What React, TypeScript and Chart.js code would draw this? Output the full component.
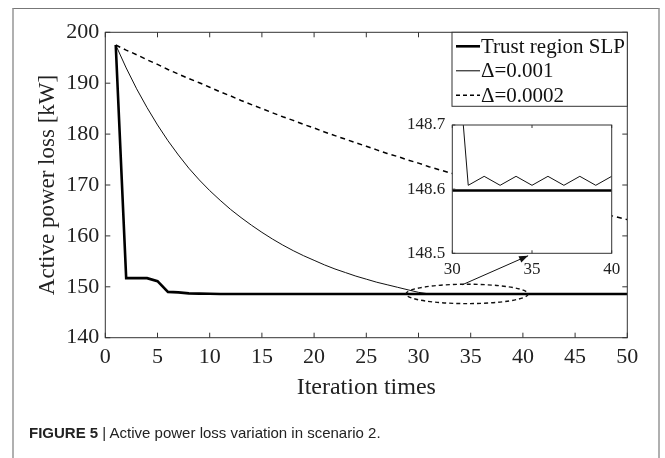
import React, { useEffect, useRef } from "react";
import { Chart, registerables } from "chart.js";

Chart.register(...registerables);

// ---------------- data ----------------
const iterations = [
  1, 2, 3, 4, 5, 6, 7, 8, 9, 10, 11, 12, 13, 14, 15, 16, 17, 18, 19, 20, 21, 22, 23, 24, 25,
  26, 27, 28, 29, 30, 31, 32, 33, 34, 35, 36, 37, 38, 39, 40, 41, 42, 43, 44, 45, 46, 47, 48, 49, 50,
];

const trustRegionSLP = [
  197.5, 151.7, 151.7, 151.7, 151.1, 149.0, 148.9, 148.7, 148.65, 148.62,
  148.6, 148.6, 148.6, 148.6, 148.6, 148.6, 148.6, 148.6, 148.6, 148.6,
  148.598, 148.598, 148.598, 148.598, 148.598, 148.598, 148.598, 148.598, 148.598, 148.598,
  148.598, 148.598, 148.598, 148.598, 148.598, 148.598, 148.598, 148.598, 148.598, 148.598,
  148.598, 148.598, 148.598, 148.598, 148.598, 148.598, 148.598, 148.598, 148.598, 148.598,
];

const delta001 = [
  197.5, 193.0, 188.9, 185.2, 181.8, 178.7, 175.9, 173.3, 171.0, 168.9,
  167.0, 165.2, 163.6, 162.1, 160.7, 159.4, 158.2, 157.1, 156.1, 155.2,
  154.3, 153.5, 152.8, 152.1, 151.5, 150.9, 150.4, 149.9, 149.4, 148.91,
  148.606, 148.62, 148.606, 148.62, 148.606, 148.62, 148.606, 148.62, 148.606, 148.62,
  148.606, 148.62, 148.606, 148.62, 148.606, 148.62, 148.606, 148.62, 148.606, 148.62,
];

const delta0002 = [
  197.5, 196.5, 195.6, 194.6, 193.7, 192.7, 191.8, 190.9, 190.1, 189.2,
  188.3, 187.5, 186.6, 185.8, 185.0, 184.2, 183.4, 182.7, 181.9, 181.2,
  180.4, 179.7, 179.0, 178.3, 177.6, 176.9, 176.2, 175.6, 174.9, 174.3,
  173.6, 173.0, 172.4, 171.8, 171.2, 170.6, 170.0, 169.4, 168.9, 168.3,
  167.8, 167.2, 166.7, 166.2, 165.7, 165.2, 164.7, 164.2, 163.7, 163.2,
];

const seriesLabels = ["Trust region SLP", "\u0394=0.001", "\u0394=0.0002"];
const xTickValues = [0, 5, 10, 15, 20, 25, 30, 35, 40, 45, 50];
const yTickValues = [140, 150, 160, 170, 180, 190, 200];
const insetXTicks = [30, 35, 40];
const insetYTicks = [148.5, 148.6, 148.7];

// zoom annotation (data units)
const ellipseX = [28.8, 40.5];
const ellipseY = [146.7, 150.5];
const arrowFrom = [34.2, 150.4];
const arrowTo = [40.5, 156.1];

const SERIF = "'Liberation Serif', 'Times New Roman', serif";

function drawBoxAndTicks(chart: any, len: number, xt: number[], yt: number[], topTicks: boolean, rightTicks: boolean) {
  const { ctx, chartArea: a, scales } = chart;
  ctx.save();
  ctx.strokeStyle = "#333";
  ctx.lineWidth = 1;
  ctx.strokeRect(a.left, a.top, a.right - a.left, a.bottom - a.top);
  ctx.beginPath();
  xt.forEach((v) => {
    const px = scales.x.getPixelForValue(v);
    ctx.moveTo(px, a.bottom);
    ctx.lineTo(px, a.bottom - len);
    if (topTicks) {
      ctx.moveTo(px, a.top);
      ctx.lineTo(px, a.top + len);
    }
  });
  yt.forEach((v) => {
    const py = scales.y.getPixelForValue(v);
    ctx.moveTo(a.left, py);
    ctx.lineTo(a.left + len, py);
    if (rightTicks) {
      ctx.moveTo(a.right, py);
      ctx.lineTo(a.right - len, py);
    }
  });
  ctx.stroke();
  ctx.restore();
}

const mainPlugin = {
  id: "mainDecor",
  afterDraw(chart: any) {
    const { ctx, chartArea: a, scales } = chart;
    drawBoxAndTicks(chart, 5, xTickValues, yTickValues, true, true);

    // ellipse
    const x0 = scales.x.getPixelForValue(ellipseX[0]);
    const x1 = scales.x.getPixelForValue(ellipseX[1]);
    const y0 = scales.y.getPixelForValue(ellipseY[1]);
    const y1 = scales.y.getPixelForValue(ellipseY[0]);
    ctx.save();
    ctx.strokeStyle = "#111";
    ctx.lineWidth = 1.4;
    ctx.setLineDash([4, 3]);
    ctx.beginPath();
    ctx.ellipse((x0 + x1) / 2, (y0 + y1) / 2, (x1 - x0) / 2, (y1 - y0) / 2, 0, 0, Math.PI * 2);
    ctx.stroke();
    ctx.setLineDash([]);

    // arrow
    const ax = scales.x.getPixelForValue(arrowFrom[0]);
    const ay = scales.y.getPixelForValue(arrowFrom[1]);
    const bx = scales.x.getPixelForValue(arrowTo[0]);
    const by = scales.y.getPixelForValue(arrowTo[1]);
    ctx.lineWidth = 1;
    ctx.beginPath();
    ctx.moveTo(ax, ay);
    ctx.lineTo(bx, by);
    ctx.stroke();
    const ang = Math.atan2(by - ay, bx - ax);
    const hl = 9, hw = 3.5;
    ctx.beginPath();
    ctx.moveTo(bx, by);
    ctx.lineTo(bx - hl * Math.cos(ang) + hw * Math.sin(ang), by - hl * Math.sin(ang) - hw * Math.cos(ang));
    ctx.lineTo(bx - hl * Math.cos(ang) - hw * Math.sin(ang), by - hl * Math.sin(ang) + hw * Math.cos(ang));
    ctx.closePath();
    ctx.fillStyle = "#111";
    ctx.fill();

    // legend box
    const lx = 452, ly = a.top, lw = a.right - 452, lh = 74;
    ctx.fillStyle = "#fff";
    ctx.fillRect(lx, ly, lw, lh);
    ctx.strokeStyle = "#333";
    ctx.lineWidth = 1;
    ctx.strokeRect(lx, ly, lw, lh);
    const rows = [14, 38.5, 63];
    const widths = [2.6, 1, 1.5];
    const dashes = [[], [], [4, 3]];
    ctx.font = `21px ${SERIF}`;
    ctx.textBaseline = "middle";
    ctx.textAlign = "left";
    rows.forEach((dy, i) => {
      const yy = ly + dy;
      ctx.strokeStyle = "#000";
      ctx.lineWidth = widths[i];
      ctx.setLineDash(dashes[i]);
      ctx.beginPath();
      ctx.moveTo(lx + 4, yy);
      ctx.lineTo(lx + 28, yy);
      ctx.stroke();
      ctx.setLineDash([]);
      ctx.fillStyle = "#111";
      ctx.fillText(seriesLabels[i], lx + 29, yy + 1);
    });
    ctx.restore();
  },
};

const insetPlugin = {
  id: "insetDecor",
  beforeDraw(chart: any) {
    const { ctx, chartArea: a } = chart;
    ctx.save();
    ctx.fillStyle = "#fff";
    ctx.fillRect(a.left, a.top, a.right - a.left, a.bottom - a.top);
    ctx.restore();
  },
  afterDraw(chart: any) {
    drawBoxAndTicks(chart, 3, insetXTicks, insetYTicks, true, false);
  },
};

function makePoints(values: number[]) {
  return iterations.map((x, i) => ({ x, y: values[i] }));
}

function datasets() {
  return [
    {
      label: seriesLabels[2],
      data: makePoints(delta0002),
      borderColor: "#000",
      borderWidth: 1.5,
      borderDash: [5, 4],
      pointRadius: 0,
      tension: 0,
      order: 3,
    },
    {
      label: seriesLabels[1],
      data: makePoints(delta001),
      borderColor: "#111",
      borderWidth: 1,
      pointRadius: 0,
      tension: 0,
      order: 2,
    },
    {
      label: seriesLabels[0],
      data: makePoints(trustRegionSLP),
      borderColor: "#000",
      borderWidth: 2.6,
      pointRadius: 0,
      tension: 0,
      order: 1,
    },
  ];
}

export default function App() {
  const mainRef = useRef<HTMLCanvasElement>(null);
  const insetRef = useRef<HTMLCanvasElement>(null);

  useEffect(() => {
    const tickFont = { family: SERIF, size: 22 };
    const main = new Chart(mainRef.current!, {
      type: "line",
      data: { datasets: datasets() as any },
      plugins: [mainPlugin],
      options: {
        animation: false,
        responsive: false,
        events: [],
        layout: { padding: { left: 20, top: 32.3, right: 37.7, bottom: 40 } },
        plugins: { legend: { display: false }, tooltip: { enabled: false } },
        scales: {
          x: {
            type: "linear",
            min: 0,
            max: 50,
            grid: { display: false, drawTicks: false },
            border: { display: false },
            afterBuildTicks: (s: any) => {
              s.ticks = xTickValues.map((v) => ({ value: v }));
            },
            afterFit: (s: any) => {
              s.height = 80.3;
              s.paddingLeft = 0;
              s.paddingRight = 0;
            },
            ticks: { font: tickFont, color: "#222", padding: 6, maxRotation: 0, autoSkip: false },
            title: {
              display: true,
              text: "Iteration times",
              font: { family: SERIF, size: 24 },
              color: "#222",
              padding: { top: 0, bottom: 16 },
            },
          },
          y: {
            type: "linear",
            min: 140,
            max: 200,
            grid: { display: false, drawTicks: false },
            border: { display: false },
            afterBuildTicks: (s: any) => {
              s.ticks = yTickValues.map((v) => ({ value: v }));
            },
            afterFit: (s: any) => {
              s.width = 85.3;
              s.paddingTop = 0;
              s.paddingBottom = 0;
            },
            ticks: { font: tickFont, color: "#222", padding: 6 },
            title: {
              display: true,
              text: "Active power loss [kW]",
              font: { family: SERIF, size: 23 },
              color: "#222",
              padding: { top: 14, bottom: 0 },
            },
          },
        },
      },
    });

    const insetFont = { family: SERIF, size: 17 };
    const inset = new Chart(insetRef.current!, {
      type: "line",
      data: { datasets: datasets() as any },
      plugins: [insetPlugin],
      options: {
        animation: false,
        responsive: false,
        events: [],
        layout: { padding: { left: 0, top: 15, right: 8.3, bottom: 0 } },
        plugins: { legend: { display: false }, tooltip: { enabled: false } },
        scales: {
          x: {
            type: "linear",
            min: 30,
            max: 40,
            grid: { display: false, drawTicks: false },
            border: { display: false },
            afterBuildTicks: (s: any) => {
              s.ticks = insetXTicks.map((v) => ({ value: v }));
            },
            afterFit: (s: any) => {
              s.height = 31.7;
              s.paddingLeft = 0;
              s.paddingRight = 0;
            },
            ticks: { font: insetFont, color: "#222", padding: 6, maxRotation: 0, autoSkip: false },
          },
          y: {
            type: "linear",
            min: 148.5,
            max: 148.7,
            grid: { display: false, drawTicks: false },
            border: { display: false },
            afterBuildTicks: (s: any) => {
              s.ticks = insetYTicks.map((v) => ({ value: v }));
            },
            afterFit: (s: any) => {
              s.width = 52.3;
              s.paddingTop = 0;
              s.paddingBottom = 0;
            },
            ticks: {
              font: insetFont,
              color: "#222",
              padding: 7,
              callback: (v: any) => Number(v).toFixed(1),
            },
          },
        },
      },
    });

    return () => {
      main.destroy();
      inset.destroy();
    };
  }, []);

  return (
    <div style={{ position: "fixed", left: 0, top: 0, width: 665, height: 458, background: "#fff", overflow: "hidden" }}>
      <div
        style={{
          position: "absolute",
          left: 11.5,
          top: 7.5,
          width: 648,
          height: 470,
          borderTop: "1.5px solid #777",
          borderLeft: "2px solid #b0b0b0",
          borderRight: "2px solid #b0b0b0",
          boxSizing: "border-box",
        }}
      />
      <canvas ref={mainRef} width={665} height={458} style={{ position: "absolute", left: 0, top: 0 }} />
      <canvas ref={insetRef} width={220} height={175} style={{ position: "absolute", left: 400, top: 110 }} />
      <div
        style={{
          position: "absolute",
          left: 29,
          top: 424,
          fontFamily: "'Liberation Sans', Arial, sans-serif",
          fontSize: 15,
          color: "#222",
          whiteSpace: "nowrap",
        }}
      >
        <b>FIGURE 5</b> | Active power loss variation in scenario 2.
      </div>
    </div>
  );
}
